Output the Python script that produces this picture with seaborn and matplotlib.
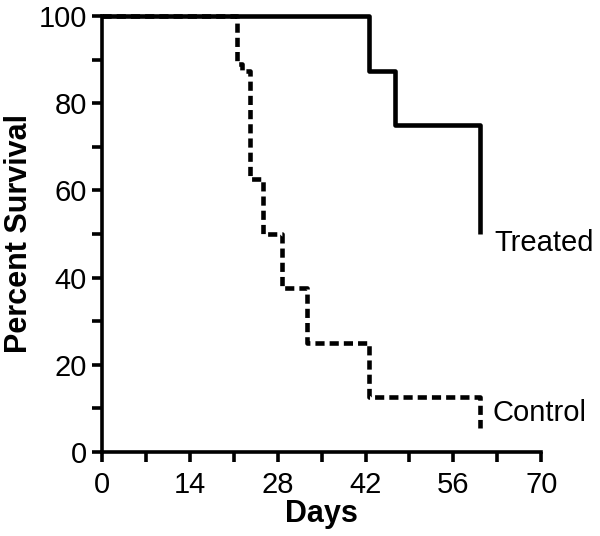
import numpy as np
import pandas as pd
import matplotlib
matplotlib.use("Agg")
import matplotlib.pyplot as plt
import seaborn as sns

# survival curves (step points)
treated_days = [0, 42.5, 46.7, 60.3]
treated_surv = [100, 87.5, 75, 50]
control_days = [0, 21.5, 22.3, 23.6, 25.7, 28.7, 32.7, 42.6, 60.3]
control_surv = [100, 88.9, 87.5, 62.5, 50, 37.5, 25, 12.5, 5.5]
x_ticks = [0, 14, 28, 42, 56, 70]
y_ticks = [0, 20, 40, 60, 80, 100]

df = pd.concat([
    pd.DataFrame({"Days": treated_days, "Survival": treated_surv, "Group": "Treated"}),
    pd.DataFrame({"Days": control_days, "Survival": control_surv, "Group": "Control"}),
])

sns.set_style("ticks", {"axes.edgecolor": "black", "text.color": "black",
                        "axes.labelcolor": "black", "xtick.color": "black",
                        "ytick.color": "black"})
plt.rcParams['font.family'] = ['Liberation Sans', 'DejaVu Sans']

fig = plt.figure(figsize=(6, 5.36), dpi=100)
ax = fig.add_axes([0.17, 0.157, 0.732, 0.813])

sns.lineplot(data=df, x="Days", y="Survival", style="Group",
             dashes={"Treated": "", "Control": (2, 1.1)},
             color="black", linewidth=3.3, estimator=None, sort=False,
             drawstyle="steps-post", legend=False, ax=ax)
for line in ax.lines:
    line.set_clip_on(False)
    line.set_solid_capstyle("butt")
    line.set_dash_capstyle("butt")

ax.set_xlim(0, 70)
ax.set_ylim(0, 100)
ax.set_xticks(x_ticks)
ax.set_yticks(y_ticks)
ax.set_xticks(np.arange(7, 70, 14), minor=True)
ax.set_yticks(np.arange(10, 100, 20), minor=True)
ax.tick_params(which="both", direction="out", width=2.6, color="black",
               labelcolor="black", length=7)
ax.tick_params(axis="y", which="major", labelsize=21, pad=4)
ax.tick_params(axis="x", which="major", labelsize=21, pad=7)
for s in ["left", "bottom"]:
    ax.spines[s].set_linewidth(2.6)
    ax.spines[s].set_color("black")
sns.despine(ax=ax)

ax.set_xlabel("Days", fontsize=22, fontweight="bold", labelpad=0, color="black")
ax.set_ylabel("Percent Survival", fontsize=22, fontweight="bold", labelpad=3, color="black")

ax.text(62.5, 48, "Treated", fontsize=21, va="center", ha="left", color="black")
ax.text(62.3, 9, "Control", fontsize=21, va="center", ha="left", color="black")

fig.savefig("out.png", dpi=100)
